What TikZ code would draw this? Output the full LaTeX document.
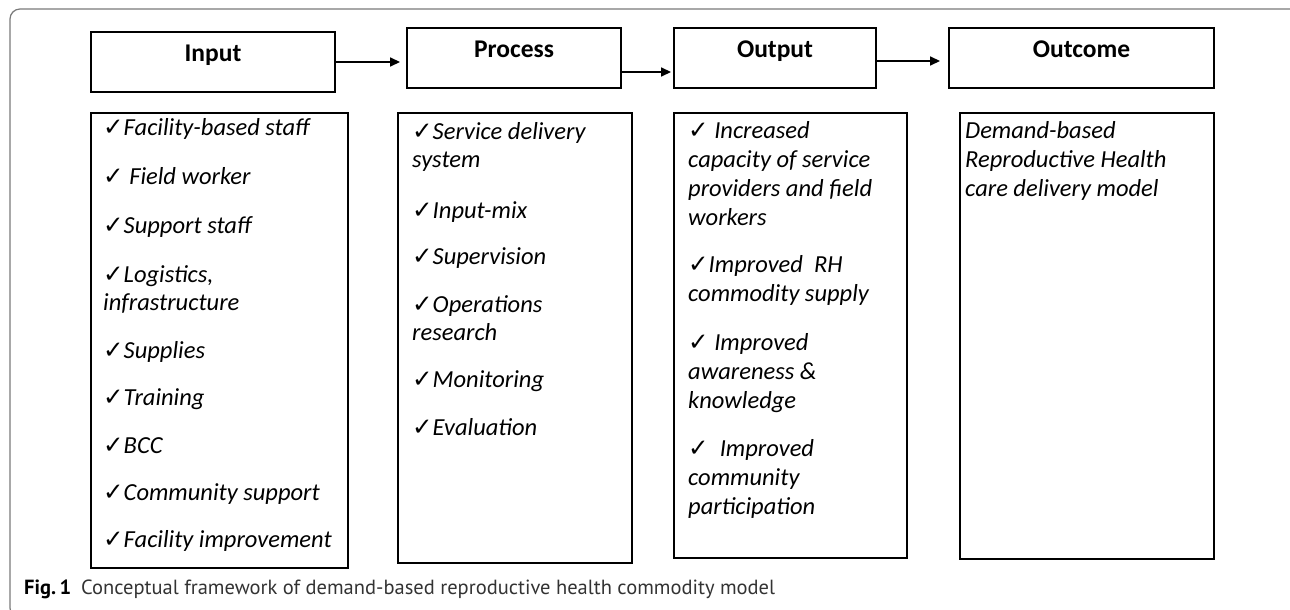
\documentclass[tikz,border=0pt]{standalone}
\usepackage{fontspec}
\setmainfont{Carlito}
\newfontfamily\chkfont{DejaVu Sans}
\newfontfamily\capfont{PT Sans}
\usetikzlibrary{arrows.meta,calc}
\newcommand\ck{{\chkfont\upshape\bfseries ✓}}
\definecolor{framegray}{HTML}{7A7A7A}
\definecolor{capgray}{HTML}{333333}
\begin{document}
\begin{tikzpicture}[x=1pt,y=-1pt,
  hdr/.style={draw, line width=1.9pt, inner sep=0pt},
  cbox/.style={draw, line width=1.9pt, inner sep=0pt},
  htxt/.style={font=\fontsize{25.5}{30}\selectfont\bfseries, anchor=base, inner sep=0pt},
  ltxt/.style={font=\fontsize{24.5}{29}\selectfont\itshape, anchor=base west, inner sep=0pt},
  arr/.style={line width=1.5pt, -{Triangle[length=10pt,width=9pt]}}]
\useasboundingbox (0,0) rectangle (1290,610);
% frame
\draw[framegray, line width=1.2pt, rounded corners=10pt] (1310,9) -- (10,9) -- (10,618) -- (1310,618);
% headers
\node[hdr, minimum width=244pt, minimum height=60pt] (inh) at (213,62) {};
\node[hdr, minimum width=214pt, minimum height=60pt] (prh) at (514,58) {};
\node[hdr, minimum width=202pt, minimum height=60pt] (ouh) at (775,58) {};
\node[hdr, minimum width=265pt, minimum height=60pt] (och) at (1081.5,58) {};
\node[htxt] (inht) at (213,62) {Input};
\node[htxt] (prht) at (514,58) {Process};
\node[htxt] (ouht) at (775,58) {Output};
\node[htxt] (ocht) at (1081.5,58) {Outcome};
% arrows
\draw[arr, shorten >=6pt] (inh.east) -- (inh.east -| prh.west);
\draw[arr, shorten >=2pt] ([yshift=-14pt]prh.east) -- ([yshift=-14pt]prh.east -| ouh.west);
\draw[arr, shorten >=8pt] ([yshift=-3pt]ouh.east) -- ([yshift=-3pt]ouh.east -| och.west);
% content boxes
\node[cbox, minimum width=257pt, minimum height=455pt] (inc) at (219.5,340.5) {};
\node[cbox, minimum width=234pt, minimum height=450pt] (prc) at (515,338) {};
\node[cbox, minimum width=233pt, minimum height=445pt] (ouc) at (790.5,335.5) {};
\node[cbox, minimum width=254pt, minimum height=446pt] (occ) at (1087,336) {};
% input items
\foreach \yy/\txt [count=\i] in {135/{\ck Facility-based staff}, 184/{\ck\ Field worker},
  233/{\ck Support staff}, 282/{\ck Logistics,}, 310/{infrastructure}, 358/{\ck Supplies},
  405/{\ck Training}, 453/{\ck BCC}, 500/{\ck Community support}, 547/{\ck Facility improvement}}
  \node[ltxt] (inl\i) at (103,\yy) {\txt};
% process items
\foreach \yy/\txt [count=\i] in {139/{\ck Service delivery}, 167/{system}, 218/{\ck Input-mix},
  264/{\ck Supervision}, 312/{\ck Operations}, 340/{research}, 387/{\ck Monitoring}, 435/{\ck Evaluation}}
  \node[ltxt] (prl\i) at (412,\yy) {\txt};
% output items
\foreach \yy/\txt [count=\i] in {138/{\ck\ Increased}, 167/{capacity of service}, 196/{providers and field},
  225/{workers}, 272/{\ck Improved\ \ RH}, 301/{commodity supply}, 350/{\ck\ Improved},
  379/{awareness \&}, 408/{knowledge}, 456/{\ck\ \ Improved}, 485/{community}, 514/{participation}}
  \node[ltxt] (oul\i) at (688,\yy) {\txt};
% outcome
\foreach \yy/\txt [count=\i] in {138/{Demand-based}, 167/{Reproductive Health}, 196/{care delivery model}}
  \node[ltxt] (ocl\i) at (965,\yy) {\txt};
% caption
\node[anchor=base west, inner sep=0pt, font=\capfont\fontsize{20.5}{24}\selectfont] (cap) at (24,594)
  {\textbf{Fig.\,1}\hspace{10pt}{\color{capgray}Conceptual framework of demand-based reproductive health commodity model}};
\end{tikzpicture}
\end{document}
